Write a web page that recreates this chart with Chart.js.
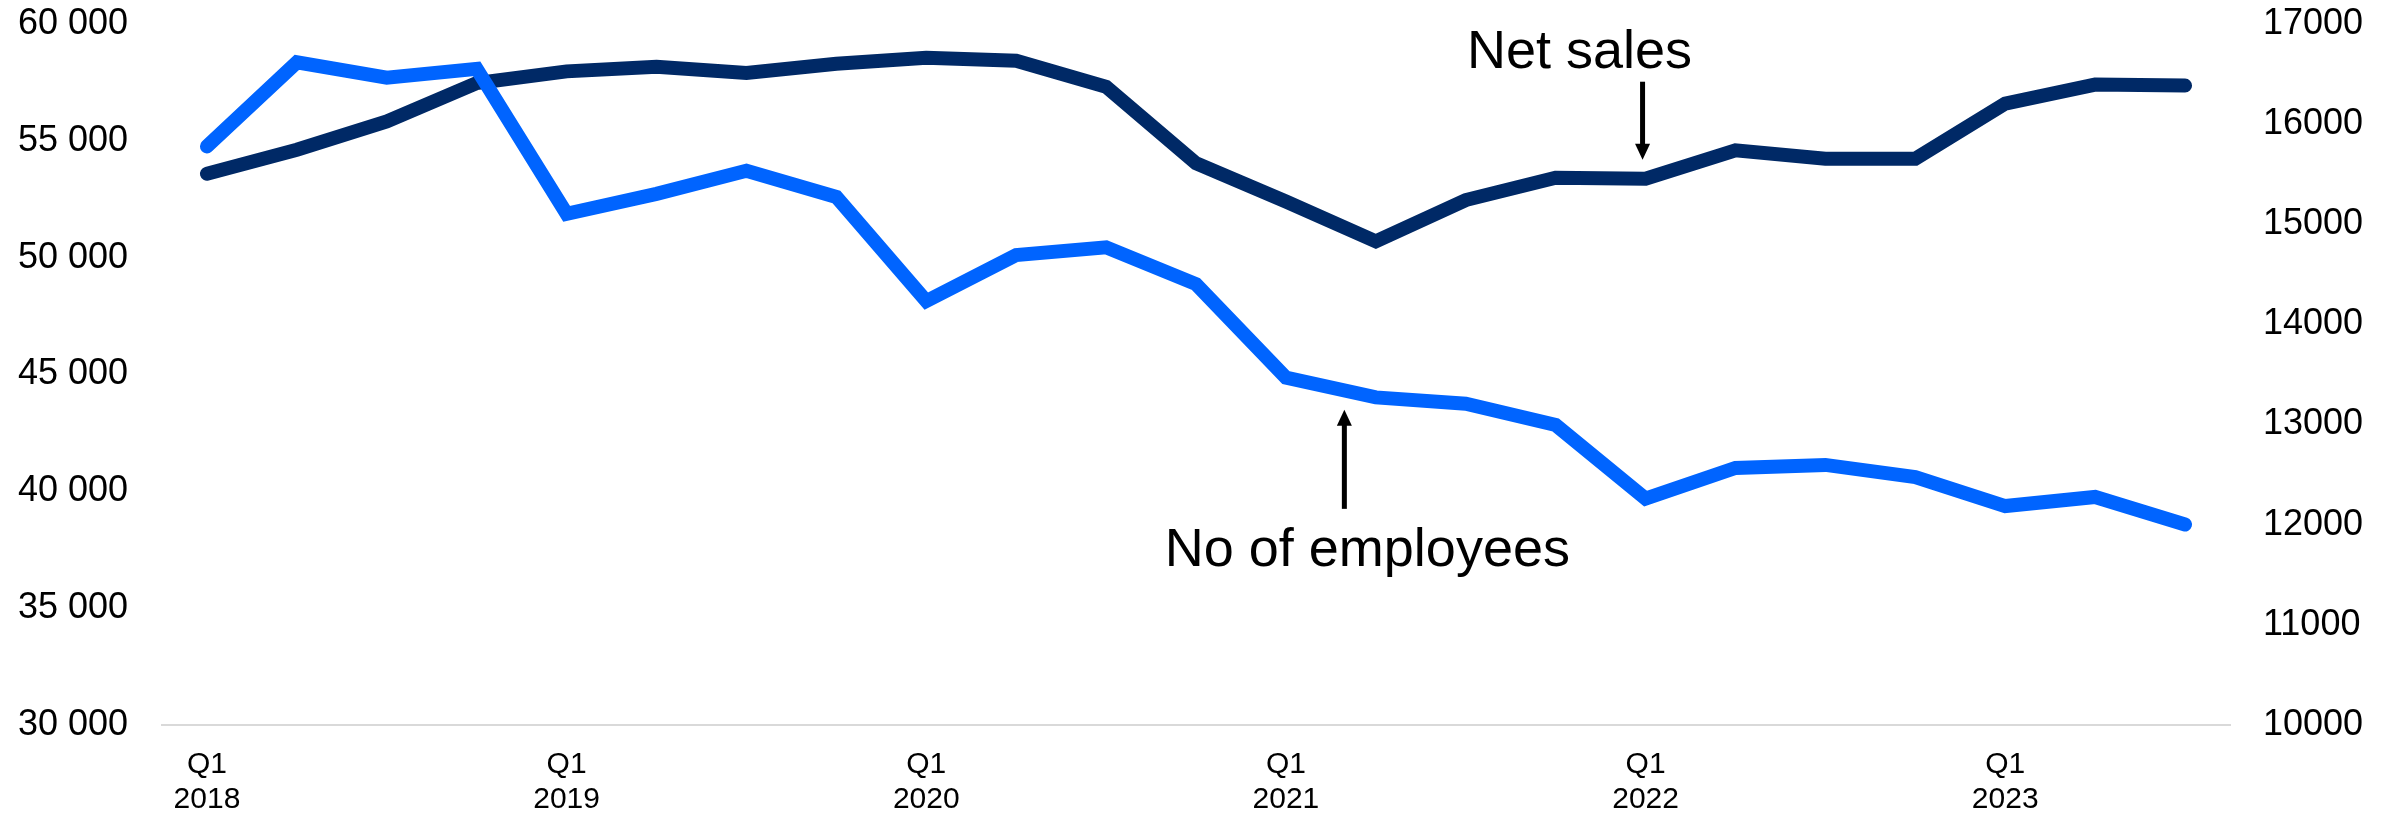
<!DOCTYPE html>
<html>

<head>
  <meta charset="UTF-8">
  <title>Net sales and employees</title>
  <script src="https://cdn.jsdelivr.net/npm/chart.js"></script>
  <style>
    html, body { margin: 0; padding: 0; background: #ffffff; }
    canvas { display: block; }
  </style>
</head>

<body>
  <canvas id="grafico" width="2397" height="817"></canvas>

  <script>
    // quarters 2018 Q1 .. 2023 Q3
    var trimestres = ['Q1 2018', 'Q2 2018', 'Q3 2018', 'Q4 2018',
      'Q1 2019', 'Q2 2019', 'Q3 2019', 'Q4 2019',
      'Q1 2020', 'Q2 2020', 'Q3 2020', 'Q4 2020',
      'Q1 2021', 'Q2 2021', 'Q3 2021', 'Q4 2021',
      'Q1 2022', 'Q2 2022', 'Q3 2022', 'Q4 2022',
      'Q1 2023', 'Q2 2023', 'Q3 2023'];

    // number of employees (left axis)
    var funcionarios = [54760, 58360, 57700, 58080,
      51880, 52730, 53720, 52600,
      48140, 50110, 50440, 48870,
      44870, 44020, 43750, 42840,
      39690, 41000, 41130, 40610,
      39370, 39760, 38580];

    // net sales (right axis)
    var vendas = [15505, 15745, 16028, 16410,
      16527, 16572, 16511, 16603,
      16664, 16634, 16374, 15609,
      15227, 14830, 15242, 15465,
      15455, 15738, 15655, 15655,
      16205, 16395, 16385];

    var ticksEsquerda = [30000, 35000, 40000, 45000, 50000, 55000, 60000];
    var ticksDireita = [10000, 11000, 12000, 13000, 14000, 15000, 16000, 17000];

    var fonte = "'Liberation Sans', Arial, sans-serif";

    function comEspaco(v) {
      return v.toString().replace(/\B(?=(\d{3})+(?!\d))/g, ' ');
    }

    // fixed width for the y axes, and the plot starts 24px under the top
    function ajustaEixo(largura) {
      return function (s) {
        s.width = largura;
        s.paddingTop = 24;
        s.paddingBottom = 0;
      };
    }

    function seta(ctx, x, y1, y2) {
      // line from y1 to the tip at y2
      var dir = y2 > y1 ? 1 : -1;
      ctx.beginPath();
      ctx.moveTo(x, y1);
      ctx.lineTo(x, y2 - dir * 14);
      ctx.stroke();
      ctx.beginPath();
      ctx.moveTo(x, y2);
      ctx.lineTo(x - 7.5, y2 - dir * 16);
      ctx.lineTo(x + 7.5, y2 - dir * 16);
      ctx.closePath();
      ctx.fill();
    }

    // text labels with arrows over the lines
    var anotacoes = {
      id: 'anotacoes',
      afterDatasetsDraw: function (chart) {
        var ctx = chart.ctx;
        var x = chart.scales.x;
        var yR = chart.scales.yR;
        var yL = chart.scales.yL;
        ctx.save();
        ctx.fillStyle = '#000000';
        ctx.strokeStyle = '#000000';
        ctx.lineWidth = 5;
        ctx.font = '54px ' + fonte;
        ctx.textAlign = 'center';
        ctx.textBaseline = 'alphabetic';

        // Net sales, pointing down at Q1 2022
        var px = x.getPixelForValue(16);
        var py = yR.getPixelForValue(vendas[16]);
        ctx.fillText('Net sales', px - 66, py - 111);
        seta(ctx, px - 3, py - 97, py - 19);

        // No of employees, pointing up between Q1 and Q2 2021
        var ex = x.getPixelForValue(12.65);
        var ey = yL.getPixelForValue(44300);
        ctx.fillText('No of employees', ex + 23, ey + 175);
        seta(ctx, ex, ey + 118, ey + 19);
        ctx.restore();
      }
    };

    new Chart(document.getElementById('grafico'), {
      type: 'line',
      data: {
        labels: trimestres,
        datasets: [
          {
            label: 'No of employees',
            data: funcionarios,
            yAxisID: 'yL',
            borderColor: '#0064FF',
            borderWidth: 14,
            borderCapStyle: 'round',
            borderJoinStyle: 'miter',
            pointRadius: 0,
            tension: 0
          },
          {
            label: 'Net sales',
            data: vendas,
            yAxisID: 'yR',
            borderColor: '#002966',
            borderWidth: 14,
            borderCapStyle: 'round',
            borderJoinStyle: 'miter',
            pointRadius: 0,
            tension: 0
          }
        ]
      },
      options: {
        responsive: false,
        devicePixelRatio: 1,
        animation: false,
        layout: { padding: 0 },
        plugins: {
          legend: { display: false },
          tooltip: { enabled: false }
        },
        scales: {
          x: {
            offset: true,
            grid: { display: false, drawTicks: false },
            border: { display: true, color: '#d9d9d9', width: 2 },
            afterFit: function (s) { s.height = 92; },
            ticks: {
              autoSkip: false,
              maxRotation: 0,
              padding: 22,
              color: '#000000',
              font: { family: fonte, size: 30, lineHeight: 1.17 },
              callback: function (v, i) {
                if (i % 4 !== 0) return '';
                return trimestres[i].split(' ');
              }
            }
          },
          yL: {
            position: 'left',
            min: 30000,
            max: 60000,
            grid: { display: false, drawTicks: false },
            border: { display: false },
            afterFit: ajustaEixo(162),
            afterBuildTicks: function (s) {
              s.ticks = ticksEsquerda.map(function (v) { return { value: v }; });
            },
            ticks: {
              padding: 34,
              color: '#000000',
              font: { family: fonte, size: 36, lineHeight: 1 },
              callback: function (v) { return comEspaco(v); }
            }
          },
          yR: {
            position: 'right',
            min: 10000,
            max: 17000,
            grid: { display: false, drawTicks: false },
            border: { display: false },
            afterFit: ajustaEixo(167),
            afterBuildTicks: function (s) {
              s.ticks = ticksDireita.map(function (v) { return { value: v }; });
            },
            ticks: {
              padding: 33,
              color: '#000000',
              font: { family: fonte, size: 36, lineHeight: 1 },
              callback: function (v) { return String(v); }
            }
          }
        }
      },
      plugins: [anotacoes]
    });
  </script>
</body>

</html>
